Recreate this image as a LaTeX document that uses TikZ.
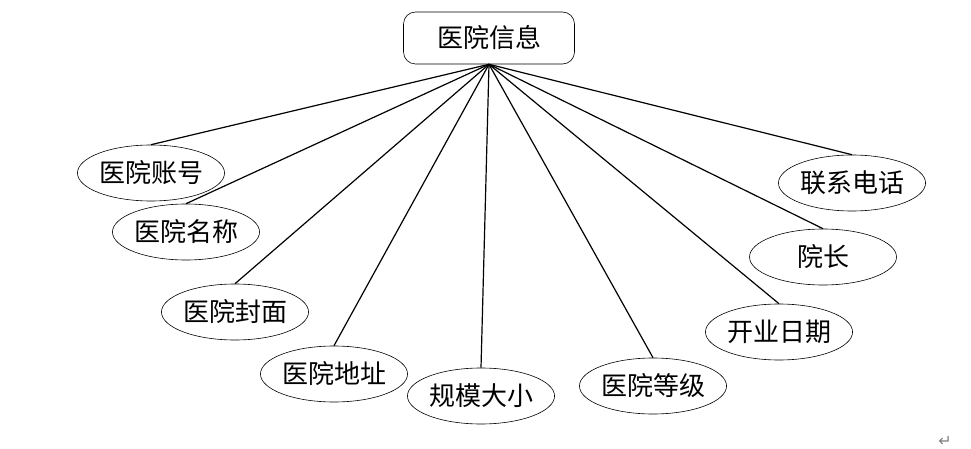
\documentclass[tikz,border=0pt]{standalone}
\usepackage{fontspec}
\setmainfont{Noto Sans CJK SC}
\newfontfamily\markfont{DejaVu Sans}
\usetikzlibrary{shapes.geometric}

\begin{document}
\begin{tikzpicture}[x=1pt,y=-1pt,
  attr/.style={draw,ellipse,line width=0.6pt,minimum width=147pt,
               minimum height=56pt,inner sep=0pt,
               font=\fontsize{26}{30}\selectfont},
  entity/.style={draw,line width=0.6pt,rounded corners=12pt,
                 minimum width=171pt,minimum height=52pt,inner sep=0pt,
                 font=\fontsize{26}{30}\selectfont},
  link/.style={line width=1.2pt}]
  \useasboundingbox (0,0) rectangle (971,449);
  \node[entity] (info) at (489,38) {医院信息};
  \node[attr] (zhanghao) at (151,173) {医院账号};
  \node[attr] (mingcheng) at (186,232) {医院名称};
  \node[attr] (fengmian) at (235,312) {医院封面};
  \node[attr] (dizhi) at (334,374) {医院地址};
  \node[attr] (guimo) at (481,396) {规模大小};
  \node[attr] (dengji) at (653,386) {医院等级};
  \node[attr] (riqi) at (779,332) {开业日期};
  \node[attr] (yuanzhang) at (823,257) {院长};
  \node[attr] (dianhua) at (852,183) {联系电话};
  \node[text=gray,font=\markfont\fontsize{16}{16}\selectfont] (retmark) at (945,441) {↵};
  \draw[link](info.south)--(zhanghao.north);
  \draw[link](info.south)--(mingcheng.north);
  \draw[link](info.south)--(fengmian.north);
  \draw[link](info.south)--(dizhi.north);
  \draw[link](info.south)--(guimo.north);
  \draw[link](info.south)--(dengji.north);
  \draw[link](info.south)--(riqi.north);
  \draw[link](info.south)--(yuanzhang.north);
  \draw[link](info.south)--(dianhua.north);
\end{tikzpicture}
\end{document}
